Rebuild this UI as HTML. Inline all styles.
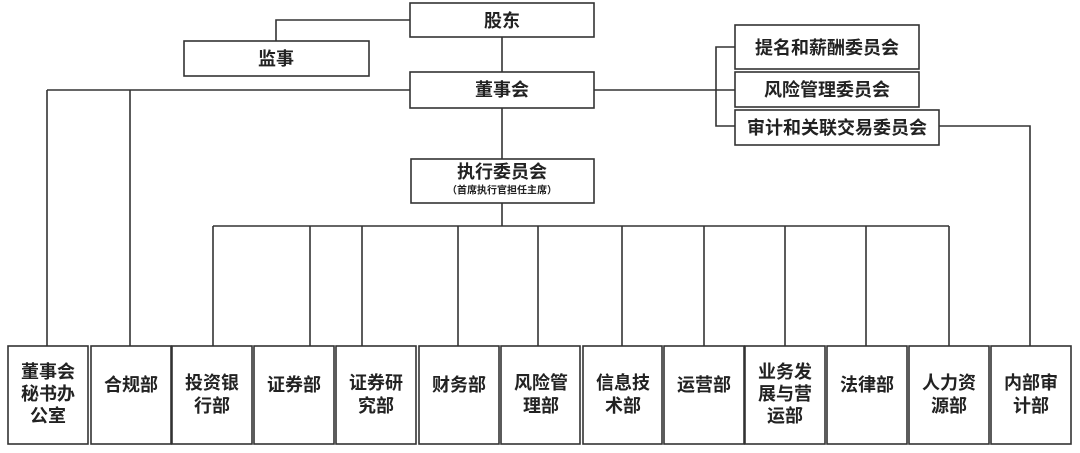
<!DOCTYPE html>
<html><head><meta charset="utf-8"><style>
html,body{margin:0;padding:0;background:#fff;width:1080px;height:453px;overflow:hidden}
svg text{font-family:"Liberation Sans","Noto Sans CJK SC",sans-serif;fill:#222;text-anchor:middle;dominant-baseline:central}
</style></head><body>
<svg width="1080" height="453" viewBox="0 0 1080 453" xmlns="http://www.w3.org/2000/svg">
<g fill="none" stroke="#333" stroke-width="1.6">
<!-- connectors -->
<polyline points="410,20 276,20 276,41"/>
<line x1="502" y1="37" x2="502" y2="72"/>
<line x1="47" y1="90" x2="410" y2="90"/>
<line x1="47" y1="90" x2="47" y2="346"/>
<line x1="130" y1="90" x2="130" y2="346"/>
<line x1="594" y1="90" x2="735" y2="90"/>
<polyline points="735,47 716,47 716,126 735,126"/>
<polyline points="939,126 1030,126 1030,346"/>
<line x1="502" y1="108" x2="502" y2="159"/>
<line x1="502" y1="203" x2="502" y2="226"/>
<line x1="213" y1="226" x2="949" y2="226"/>
<line x1="213" y1="226" x2="213" y2="346"/>
<line x1="310" y1="226" x2="310" y2="346"/>
<line x1="362" y1="226" x2="362" y2="346"/>
<line x1="458" y1="226" x2="458" y2="346"/>
<line x1="538" y1="226" x2="538" y2="346"/>
<line x1="622" y1="226" x2="622" y2="346"/>
<line x1="704" y1="226" x2="704" y2="346"/>
<line x1="785" y1="226" x2="785" y2="346"/>
<line x1="866" y1="226" x2="866" y2="346"/>
<line x1="949" y1="226" x2="949" y2="346"/>
<!-- top boxes -->
<rect x="410" y="3" width="184" height="34"/>
<rect x="184" y="41" width="185" height="35"/>
<rect x="410" y="72" width="184" height="36"/>
<rect x="735" y="25" width="184" height="44"/>
<rect x="735" y="72" width="184" height="35"/>
<rect x="735" y="110" width="204" height="35"/>
<rect x="411" y="159" width="183" height="44"/>
<!-- bottom boxes -->
<rect x="8" y="346" width="80" height="98"/>
<rect x="91" y="346" width="80" height="98"/>
<rect x="172" y="346" width="80" height="98"/>
<rect x="254" y="346" width="80" height="98"/>
<rect x="336" y="346" width="80" height="98"/>
<rect x="419" y="346" width="80" height="98"/>
<rect x="501" y="346" width="79" height="98"/>
<rect x="583" y="346" width="79" height="98"/>
<rect x="664" y="346" width="80" height="98"/>
<rect x="745" y="346" width="80" height="98"/>
<rect x="827" y="346" width="80" height="98"/>
<rect x="909" y="346" width="80" height="98"/>
<rect x="991" y="346" width="80" height="98"/>
</g>
<g font-size="18" font-weight="bold">
<text x="502" y="21">股东</text>
<text x="276" y="59">监事</text>
<text x="502" y="90">董事会</text>
<text x="827" y="48">提名和薪酬委员会</text>
<text x="827" y="90">风险管理委员会</text>
<text x="837" y="128">审计和关联交易委员会</text>
<text x="502" y="172">执行委员会</text>
</g>
<text x="502" y="191" font-size="10" font-weight="bold">（首席执行官担任主席）</text>
<g font-size="18" font-weight="bold">
<text x="48" y="372">董事会</text><text x="48" y="394">秘书办</text><text x="48" y="416">公室</text>
<text x="131" y="385">合规部</text>
<text x="212" y="383">投资银</text><text x="212" y="406">行部</text>
<text x="294" y="385">证券部</text>
<text x="376" y="383">证券研</text><text x="376" y="406">究部</text>
<text x="459" y="385">财务部</text>
<text x="541" y="383">风险管</text><text x="541" y="406">理部</text>
<text x="623" y="383">信息技</text><text x="623" y="406">术部</text>
<text x="704" y="385">运营部</text>
<text x="785" y="372">业务发</text><text x="785" y="394">展与营</text><text x="785" y="416">运部</text>
<text x="867" y="385">法律部</text>
<text x="949" y="383">人力资</text><text x="949" y="406">源部</text>
<text x="1031" y="383">内部审</text><text x="1031" y="406">计部</text>
</g>
</svg>
</body></html>
